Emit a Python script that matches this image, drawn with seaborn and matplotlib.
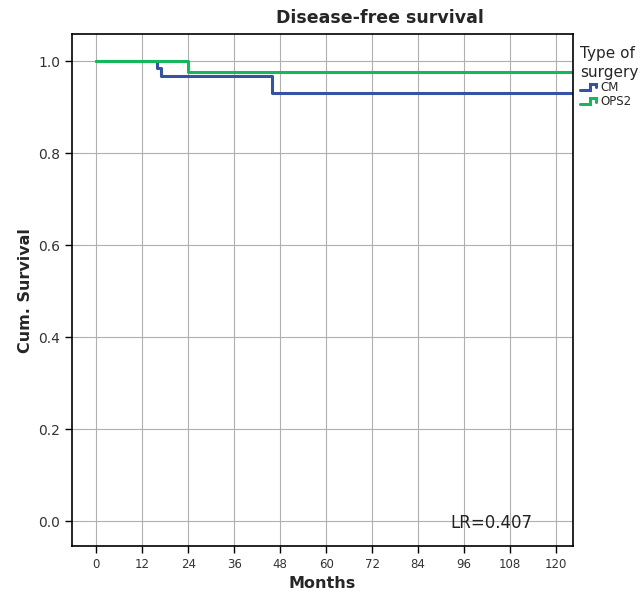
import numpy as np
import pandas as pd
import seaborn as sns
import matplotlib
matplotlib.use("Agg")
import matplotlib.pyplot as plt
from matplotlib.lines import Line2D
from matplotlib.legend_handler import HandlerBase

# step curves (months, cumulative survival)
cm_months = [0, 16, 17, 46, 124]
cm_surv = [1.0, 0.985, 0.967, 0.930, 0.930]
ops2_months = [0, 24, 124]
ops2_surv = [1.0, 0.977, 0.977]
groups = ["CM", "OPS2"]
colors = {"CM": "#3552a4", "OPS2": "#14b85a"}
x_ticks = [0, 12, 24, 36, 48, 60, 72, 84, 96, 108, 120]
y_ticks = [0.0, 0.2, 0.4, 0.6, 0.8, 1.0]

df = pd.concat([
    pd.DataFrame({"Months": cm_months, "Cum. Survival": cm_surv, "group": "CM"}),
    pd.DataFrame({"Months": ops2_months, "Cum. Survival": ops2_surv, "group": "OPS2"}),
])


class StepHandler(HandlerBase):
    # little step icon like the SPSS legend
    def create_artists(self, legend, orig_handle, xdescent, ydescent,
                       width, height, fontsize, trans):
        x0, y0 = -xdescent, -ydescent
        xs = [x0, x0 + 0.5 * width, x0 + 0.5 * width, x0 + 0.85 * width,
              x0 + 0.85 * width]
        ys = [y0 + 0.1 * height, y0 + 0.1 * height, y0 + 0.9 * height,
              y0 + 0.9 * height, y0 + 0.45 * height]
        ln = Line2D(xs, ys, color=orig_handle.get_color(), linewidth=2.2,
                    transform=trans, solid_joinstyle="miter")
        return [ln]


sns.set_theme(style="ticks")
plt.rcParams["font.family"] = ["DejaVu Sans"]

fig = plt.figure(figsize=(6.41, 5.99), dpi=100)
ax = fig.add_axes([0.1123, 0.0885, 0.7817, 0.8545])

for g in groups:
    sub = df[df["group"] == g]
    sns.lineplot(data=sub, x="Months", y="Cum. Survival", ax=ax, color=colors[g],
                 drawstyle="steps-post", linewidth=2.2, legend=False)

ax.set_xlim(-6.3, 124.4)
ax.set_ylim(-0.054, 1.059)
ax.set_xticks(x_ticks)
ax.set_yticks(y_ticks)
ax.set_yticklabels([f"{v:.1f}" for v in y_ticks])
ax.grid(True, color="#b0b0b0", linewidth=0.8)
ax.set_axisbelow(True)
for s in ax.spines.values():
    s.set_color("black")
    s.set_linewidth(1.2)
ax.tick_params(axis="both", direction="out", length=5, width=1, colors="black",
               labelcolor="#333333")
ax.tick_params(axis="x", labelsize=8.5)
ax.tick_params(axis="y", labelsize=10)

ax.set_xlabel("Months", fontsize=11.5, fontweight="bold")
ax.set_ylabel("Cum. Survival", fontsize=11.5, fontweight="bold")
# the title sits right of centre in the original
ax.set_title("Disease-free survival", fontsize=12.5, fontweight="bold", pad=8,
             x=0.615)

ax.text(103, -0.003, "LR=0.407", fontsize=12, ha="center", va="center",
        color="#222222")

handles = [Line2D([], [], color=colors[g]) for g in groups]
leg = ax.legend(handles, groups, title="Type of\nsurgery", loc="upper left",
                bbox_to_anchor=(1.0, 0.99), frameon=False, fontsize=8.5,
                title_fontsize=11, handlelength=1.6, handletextpad=0.1,
                labelspacing=0.1, alignment="left", borderaxespad=0.2,
                handler_map={Line2D: StepHandler()})
leg.get_title().set_linespacing(1.3)

fig.savefig("out.png", dpi=100)
